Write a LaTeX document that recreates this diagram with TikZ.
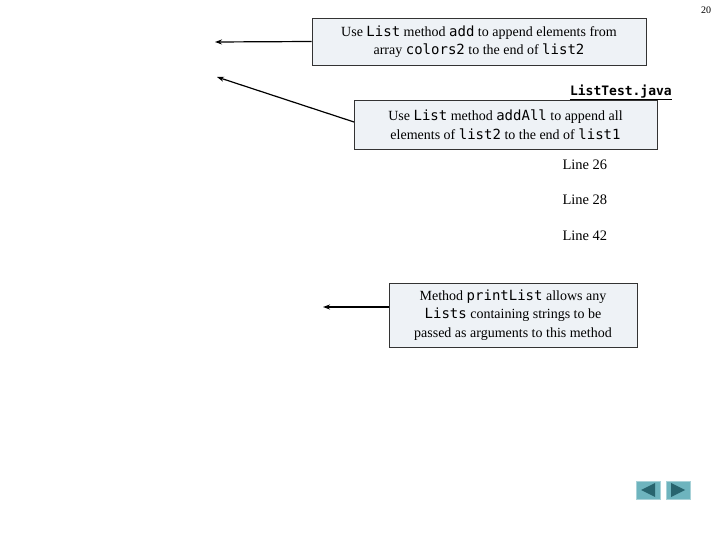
\documentclass[tikz,border=0pt]{standalone}
\usepackage{fontspec}
\setmainfont{Liberation Serif}
\setmonofont{DejaVu Sans Mono}
\usetikzlibrary{arrows.meta}
\definecolor{boxfill}{RGB}{238,242,246}
\definecolor{navfill}{RGB}{110,180,190}
\definecolor{navtri}{RGB}{40,100,110}
\begin{document}
\begin{tikzpicture}[x=1pt,y=-1pt,
  callout/.style={draw=black!80,fill=boxfill,line width=0.8pt,align=center,font=\fontsize{14}{18.5}\selectfont,inner sep=0pt},
  arr/.style={-{Stealth[length=7pt,width=5pt]},line width=1.2pt},
  lbl/.style={font=\fontsize{14.5}{16}\selectfont,anchor=west},
  nav/.style={fill=navfill,draw=navfill!60!white,minimum width=24pt,minimum height=18pt,inner sep=0pt}]
\useasboundingbox (0,0) rectangle (720,540);
\node (pg) at (706,10) {\fontsize{10}{12}\selectfont 20};
\node[callout,minimum width=334pt,minimum height=47pt] (b1) at (479,41.5) {Use \texttt{List} method \texttt{add} to append elements from\\ array \texttt{colors2} to the end of \texttt{list2}};
\coordinate (t1) at (215,42);
\draw[arr] (b1.west) -- (t1);
\node[anchor=east,font=\fontsize{13}{15}\selectfont\ttfamily\bfseries,inner sep=2pt] (fn) at (674,92) {ListTest.java};
\draw[line width=0.8pt] ([xshift=2pt,yshift=1pt]fn.south west) -- ([xshift=-2pt,yshift=1pt]fn.south east);
\node[callout,minimum width=303pt,minimum height=49pt] (b2) at (505.5,124.5) {Use \texttt{List} method \texttt{addAll} to append all\\ elements of \texttt{list2} to the end of \texttt{list1}};
\coordinate (t2) at (217,77);
\draw[arr] (354,122) -- (t2);
\node[lbl] (l26) at (559,165) {Line 26};
\node[lbl] (l28) at (559,200) {Line 28};
\node[lbl] (l42) at (559,236) {Line 42};
\node[callout,minimum width=248pt,minimum height=64pt] (b3) at (513,315) {Method \texttt{printList} allows any\\ \texttt{Lists} containing strings to be\\ passed as arguments to this method};
\coordinate (t3) at (323,307);
\draw[arr] (389,307) -- (t3);
\node[nav] (prev) at (648,490) {};
\node[nav] (next) at (678,490) {};
\fill[navtri] (641,490) -- (655,483) -- (655,497) -- cycle;
\fill[navtri] (685,490) -- (671,483) -- (671,497) -- cycle;
\end{tikzpicture}
\end{document}
